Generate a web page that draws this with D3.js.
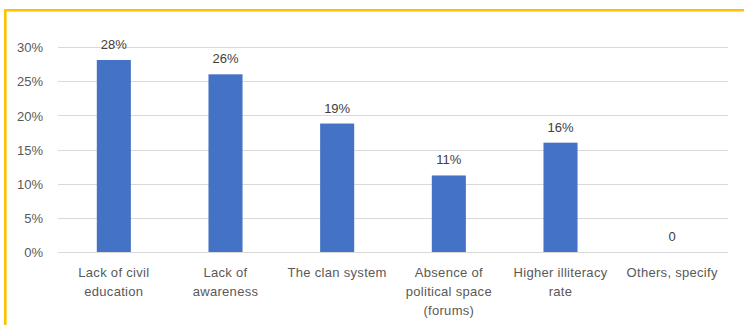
<!DOCTYPE html>
<html>
<head>
<meta charset="utf-8">
<script src="https://cdn.jsdelivr.net/npm/d3@7"></script>
<style>
  html, body { margin: 0; padding: 0; background: #fff; }
  svg { display: block; }
  text { font-family: "Liberation Sans", Arial, sans-serif; }
</style>
</head>
<body>
<svg id="chart" width="744" height="325"></svg>
<script>
const categories = [
  ["Lack of civil", "education"],
  ["Lack of", "awareness"],
  ["The clan system"],
  ["Absence of", "political space", "(forums)"],
  ["Higher illiteracy", "rate"],
  ["Others, specify"]
];
const values = [0.281, 0.26, 0.188, 0.112, 0.16, 0];
const valueLabels = ["28%", "26%", "19%", "11%", "16%", "0"];
const yTicks = [0, 0.05, 0.10, 0.15, 0.20, 0.25, 0.30];

const svg = d3.select("#chart");
const W = 744, H = 325;
const plot = { left: 58, right: 728, top: 47, bottom: 252 };

svg.append("rect").attr("width", W).attr("height", H).attr("fill", "#fff");

// gold frame (top and left edges visible)
svg.append("path")
  .attr("d", `M5.3,${H} L5.3,10.3 L${W},10.3`)
  .attr("fill", "none")
  .attr("stroke", "#FFC000")
  .attr("stroke-width", 2.6);

const x = d3.scaleBand()
  .domain(d3.range(categories.length))
  .range([plot.left, plot.right])
  .paddingInner(0.695)
  .paddingOuter(0.3475);

const y = d3.scaleLinear().domain([0, 0.30]).range([plot.bottom, plot.top]);

// gridlines
svg.append("g").selectAll("line").data(yTicks).join("line")
  .attr("x1", plot.left).attr("x2", plot.right)
  .attr("y1", d => Math.round(y(d)) + 0.5).attr("y2", d => Math.round(y(d)) + 0.5)
  .attr("stroke", "#d9d9d9").attr("stroke-width", 1);

// y axis labels
const yAxis = d3.axisLeft(y).tickValues(yTicks).tickFormat(d3.format(".0%")).tickSize(0).tickPadding(0);
const gy = svg.append("g").attr("transform", `translate(43,0)`).call(yAxis);
gy.select(".domain").remove();
gy.selectAll("text")
  .attr("fill", "#595959")
  .style("font-size", "13px")
  .style("font-family", '"Liberation Sans", Arial, sans-serif')
  .attr("dy", "0.36em");

// bars
svg.append("g").selectAll("rect").data(values).join("rect")
  .attr("x", (d, i) => x(i))
  .attr("y", d => y(d))
  .attr("width", x.bandwidth())
  .attr("height", d => y(0) - y(d))
  .attr("fill", "#4472C4");

// value labels
svg.append("g").selectAll("text").data(values).join("text")
  .attr("x", (d, i) => x(i) + x.bandwidth() / 2)
  .attr("y", d => y(d) - 11)
  .attr("text-anchor", "middle")
  .attr("fill", "#404040")
  .style("font-size", "13px")
  .text((d, i) => valueLabels[i]);

// category labels
const cg = svg.append("g").selectAll("text").data(categories).join("text")
  .attr("x", (d, i) => x(i) + x.bandwidth() / 2)
  .attr("y", 277)
  .attr("text-anchor", "middle")
  .attr("fill", "#595959")
  .style("font-size", "13px")
  .style("letter-spacing", "0.3px");
cg.selectAll("tspan").data(d => d).join("tspan")
  .attr("x", function() { return d3.select(this.parentNode).attr("x"); })
  .attr("dy", (d, j) => j === 0 ? 0 : 19)
  .text(d => d);
</script>
</body>
</html>
